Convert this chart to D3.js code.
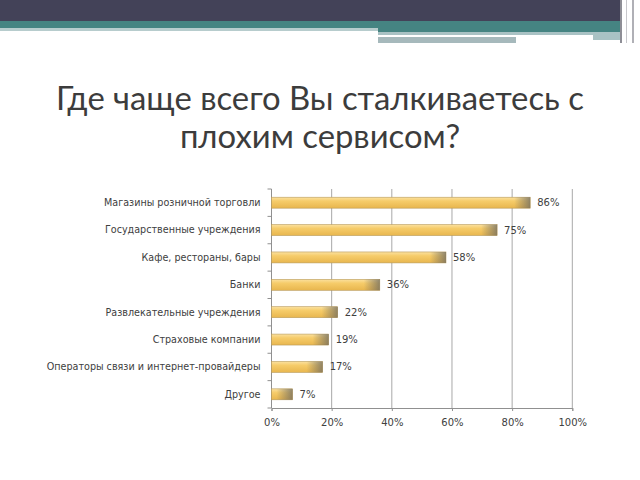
<!DOCTYPE html>
<html><head><meta charset="utf-8">
<script src="https://cdn.jsdelivr.net/npm/d3@7"></script>
<style>body{margin:0;background:#fff}svg{display:block}</style>
</head><body>
<script>
const categories = ["Магазины розничной торговли","Государственные учреждения","Кафе, рестораны, бары","Банки","Развлекательные учреждения","Страховые компании","Операторы связи и интернет-провайдеры","Другое"];
const values = [86,75,58,36,22,19,17,7];
const xTicks = [0,20,40,60,80,100];
const titleLines = ["Где чаще всего Вы сталкиваетесь с","плохим сервисом?"];

(function(){
const W=640,H=480;
const svg=d3.select("body").append("svg").attr("width",W).attr("height",H);
const defs=svg.append("defs");

// header decoration
svg.append("rect").attr("x",0).attr("y",0).attr("width",620).attr("height",21).attr("fill","#434258");
svg.append("rect").attr("x",0).attr("y",21).attr("width",620).attr("height",7).attr("fill","#458482");
svg.append("rect").attr("x",0).attr("y",28).attr("width",378).attr("height",3).attr("fill","#b7cccd");
svg.append("rect").attr("x",378).attr("y",28).attr("width",242).attr("height",4).attr("fill","#458482");
svg.append("rect").attr("x",378).attr("y",32).attr("width",242).attr("height",3).attr("fill","#a9c2c4");
svg.append("rect").attr("x",378).attr("y",35).attr("width",215).attr("height",2).attr("fill","#ffffff");
svg.append("rect").attr("x",593).attr("y",35).attr("width",27).attr("height",5).attr("fill","#a9c2c4");
svg.append("rect").attr("x",378).attr("y",37).attr("width",138).attr("height",6).attr("fill","#a6b9bc");
svg.append("rect").attr("x",620).attr("y",0).attr("width",2).attr("height",43).attr("fill","#8e8e96");
svg.append("rect").attr("x",626).attr("y",0).attr("width",1).attr("height",43).attr("fill","#c8c8cc");
svg.append("rect").attr("x",632).attr("y",0).attr("width",2).attr("height",43).attr("fill","#b0b0b6");

// title
const title=svg.append("text").attr("text-anchor","middle").attr("fill","#3c3c3c")
  .style("font-family","Lato, 'Open Sans', sans-serif").style("font-size","28px");
titleLines.forEach((t,i)=>title.append("tspan").attr("x",320).attr("y",110+i*38).text(t));
const tw=title.select("tspan").node().getComputedTextLength();
if(tw>0) title.style("font-size",(28*528/tw).toFixed(2)+"px");

// chart
const x0=271.5,x1=572.3,yTop=189,yBot=408;
const x=d3.scaleLinear().domain([0,100]).range([x0,x1]);
const y=d3.scaleBand().domain(categories).range([yTop,yBot]).paddingInner(0.6).paddingOuter(0.3);
const yb=d3.scaleBand().domain(categories).range([yTop,yBot]);

const gv=defs.append("linearGradient").attr("id","gv").attr("x1",0).attr("y1",0).attr("x2",0).attr("y2",1);
gv.append("stop").attr("offset","0").attr("stop-color","#fbe1a0");
gv.append("stop").attr("offset","0.35").attr("stop-color","#f6cc6a");
gv.append("stop").attr("offset","1").attr("stop-color","#e8b64e");
const gh=defs.append("linearGradient").attr("id","gh").attr("x1",0).attr("y1",0).attr("x2",1).attr("y2",0);
gh.append("stop").attr("offset","0").attr("stop-color","#6e6a60").attr("stop-opacity",0);
gh.append("stop").attr("offset","1").attr("stop-color","#6e6a60").attr("stop-opacity",0.75);

const g=svg.append("g");
g.selectAll("line.grid").data(xTicks.slice(1)).enter().append("line")
  .attr("x1",d=>x(d)).attr("x2",d=>x(d)).attr("y1",yTop).attr("y2",yBot)
  .attr("stroke","#a8a8a8").attr("stroke-width",1);

const xa=g.append("g").attr("transform",`translate(0,${yBot})`)
  .call(d3.axisBottom(x).tickValues(xTicks).tickFormat(d=>d+"%").tickSize(3).tickPadding(8));
xa.select(".domain").attr("stroke","#909090");
xa.selectAll(".tick line").attr("stroke","#909090");
xa.selectAll("text").attr("fill","#404040").style("font-family","'DejaVu Sans', sans-serif").style("font-size","10px");

g.append("line").attr("x1",x0).attr("x2",x0).attr("y1",yTop).attr("y2",yBot).attr("stroke","#909090");
const bounds=categories.map(c=>yb(c)).concat([yBot]);
g.selectAll("line.ytick").data(bounds).enter().append("line")
  .attr("x1",x0-4).attr("x2",x0).attr("y1",d=>d).attr("y2",d=>d).attr("stroke","#909090");

g.selectAll("text.cat").data(categories).enter().append("text")
  .attr("x",x0-11).attr("y",d=>y(d)+y.bandwidth()/2).attr("dy","0.35em")
  .attr("text-anchor","end").attr("fill","#404040")
  .style("font-family","'DejaVu Sans', sans-serif").style("font-size","9.6px").text(d=>d);

const data=categories.map((c,i)=>({c,v:values[i]}));
g.selectAll("rect.bar").data(data).enter().append("rect")
  .attr("x",x(0)).attr("y",d=>y(d.c)).attr("width",d=>x(d.v)-x(0)).attr("height",y.bandwidth())
  .attr("fill","url(#gv)").attr("stroke","#b89a5a").attr("stroke-width",0.6);
g.selectAll("rect.shade").data(data).enter().append("rect")
  .attr("x",d=>Math.max(x(0),x(d.v)-16)).attr("y",d=>y(d.c)).attr("width",d=>Math.min(16,x(d.v)-x(0))).attr("height",y.bandwidth())
  .attr("fill","url(#gh)");

g.selectAll("text.val").data(data).enter().append("text")
  .attr("x",d=>x(d.v)+7).attr("y",d=>y(d.c)+y.bandwidth()/2).attr("dy","0.35em")
  .attr("fill","#404040").style("font-family","'DejaVu Sans', sans-serif").style("font-size","10px")
  .text(d=>d.v+"%");
})();
</script>
</body></html>
